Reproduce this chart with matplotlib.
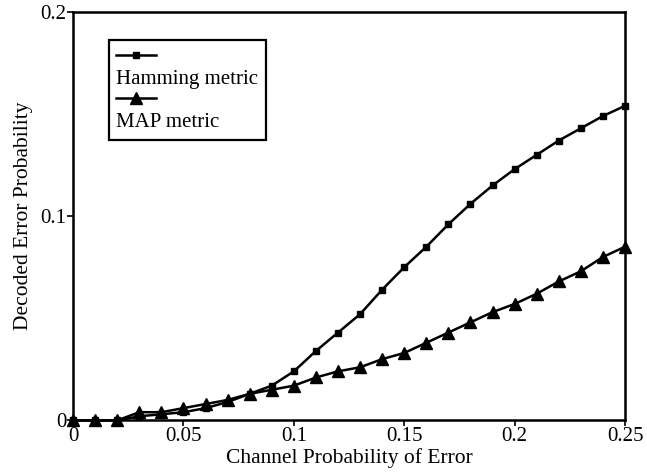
import numpy as np
import matplotlib
matplotlib.use('Agg')
import matplotlib.pyplot as plt
from matplotlib.lines import Line2D

# Data
p = [0.00, 0.01, 0.02, 0.03, 0.04, 0.05, 0.06, 0.07, 0.08, 0.09, 0.10, 0.11, 0.12,
     0.13, 0.14, 0.15, 0.16, 0.17, 0.18, 0.19, 0.20, 0.21, 0.22, 0.23, 0.24, 0.25]
hamming = [0.000, 0.000, 0.000, 0.002, 0.003, 0.004, 0.006, 0.009, 0.013, 0.017,
           0.024, 0.034, 0.043, 0.052, 0.064, 0.075, 0.085, 0.096, 0.106, 0.115,
           0.123, 0.130, 0.137, 0.143, 0.149, 0.154]
map_metric = [0.000, 0.000, 0.000, 0.004, 0.004, 0.006, 0.008, 0.010, 0.013, 0.015,
              0.017, 0.021, 0.024, 0.026, 0.030, 0.033, 0.038, 0.043, 0.048, 0.053,
              0.057, 0.062, 0.068, 0.073, 0.080, 0.085]
xticks = [0, 0.05, 0.1, 0.15, 0.2, 0.25]
xticklabels = ['0', '0.05', '0.1', '0.15', '0.2', '0.25']
yticks = [0, 0.1, 0.2]
yticklabels = ['0', '0.1', '0.2']

plt.rcParams['font.family'] = ['Liberation Serif', 'DejaVu Serif']

fig = plt.figure(figsize=(6.47, 4.75), dpi=100)
ax = fig.add_axes([0.113, 0.115, 0.853, 0.86])

ax.plot(p, hamming, color='k', lw=1.8, marker='s', ms=4.5, clip_on=False)
ax.plot(p, map_metric, color='k', lw=1.8, marker='^', ms=8.5, clip_on=False)

ax.set_xlim(0, 0.25)
ax.set_ylim(0, 0.2)
ax.set_xticks(xticks)
ax.set_xticklabels(xticklabels)
ax.set_yticks(yticks)
ax.set_yticklabels(yticklabels)
ax.tick_params(direction='out', length=4, width=1.2, labelsize=15, pad=1, colors='k')
for s in ax.spines.values():
    s.set_linewidth(1.8)

ax.set_xlabel('Channel Probability of Error', fontsize=15.5, labelpad=1.5)
ax.set_ylabel('Decoded Error Probability', fontsize=15.5, labelpad=5)

# Legend: line sample stacked above each label
blank = Line2D([], [], color='none')
h1 = Line2D([], [], color='k', lw=1.8, marker='s', ms=4.5)
h2 = Line2D([], [], color='k', lw=1.8, marker='^', ms=8.5)
leg = ax.legend([h1, blank, h2, blank], ['', 'Hamming metric', '', 'MAP metric'],
                loc='upper left', bbox_to_anchor=(0.065, 0.93), fontsize=15,
                handlelength=1.9, handletextpad=-1.9, labelspacing=0.1,
                numpoints=1, fancybox=False, framealpha=1,
                edgecolor='k', borderpad=0.35, borderaxespad=0)
leg.get_frame().set_linewidth(1.6)

fig.savefig('out.png', dpi=100)
